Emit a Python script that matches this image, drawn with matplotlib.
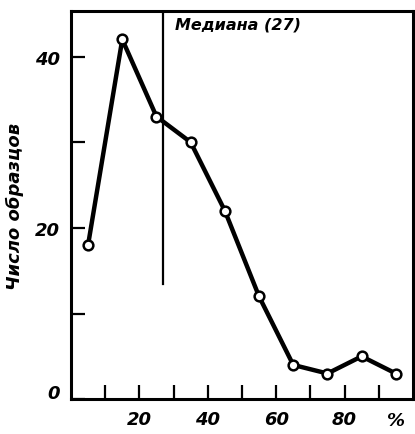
import matplotlib
matplotlib.use("Agg")
import matplotlib.pyplot as plt
import matplotlib.transforms as mtransforms

x_vals = [5, 15, 25, 35, 45, 55, 65, 75, 85, 95]
counts = [18, 42, 33, 30, 22, 12, 4, 3, 5, 3]
median = 27
x_ticks = [10, 20, 30, 40, 50, 60, 70, 80, 90]
x_labels = ["", "20", "", "40", "", "60", "", "80", ""]
y_ticks = [0, 10, 20, 30, 40]
y_labels = ["0", "", "20", "", "40"]

fig = plt.figure(figsize=(4.15, 4.35), dpi=100)
ax = fig.add_axes([0.171, 0.080, 0.824, 0.892])

ax.plot(x_vals, counts, color="black", lw=3.2, marker="o", ms=7,
        mfc="white", mec="black", mew=1.8, zorder=3)
ax.plot([median, median], [13.4, 46], color="black", lw=1.6, zorder=2)
ax.text(median + 3.5, 43.8, "Медиана (27)", fontsize=11.5, fontweight="bold",
        fontstyle="italic", va="center", ha="left")

ax.set_xlim(0, 100)
ax.set_ylim(0, 45.3)
ax.set_xticks(x_ticks)
ax.set_xticklabels(x_labels)
ax.set_yticks(y_ticks)
ax.set_yticklabels(y_labels)
ax.tick_params(direction="in", length=10, width=1.6, labelsize=13, pad=8)
for lab in ax.get_xticklabels() + ax.get_yticklabels():
    lab.set_fontweight("bold")
    lab.set_fontstyle("italic")
zero_lab = ax.get_yticklabels()[0]
zero_lab.set_transform(zero_lab.get_transform() +
                       mtransforms.ScaledTranslation(0, 8 / 100, fig.dpi_scale_trans))
ax.text(95, -1.4, "%", fontsize=13, fontweight="bold", fontstyle="italic",
        ha="center", va="top", transform=ax.transData, clip_on=False)
ax.set_ylabel("Число образцов", fontsize=13, fontweight="bold",
              fontstyle="italic", labelpad=8)
for s in ax.spines.values():
    s.set_linewidth(2.2)

fig.savefig("out.png", dpi=100)
